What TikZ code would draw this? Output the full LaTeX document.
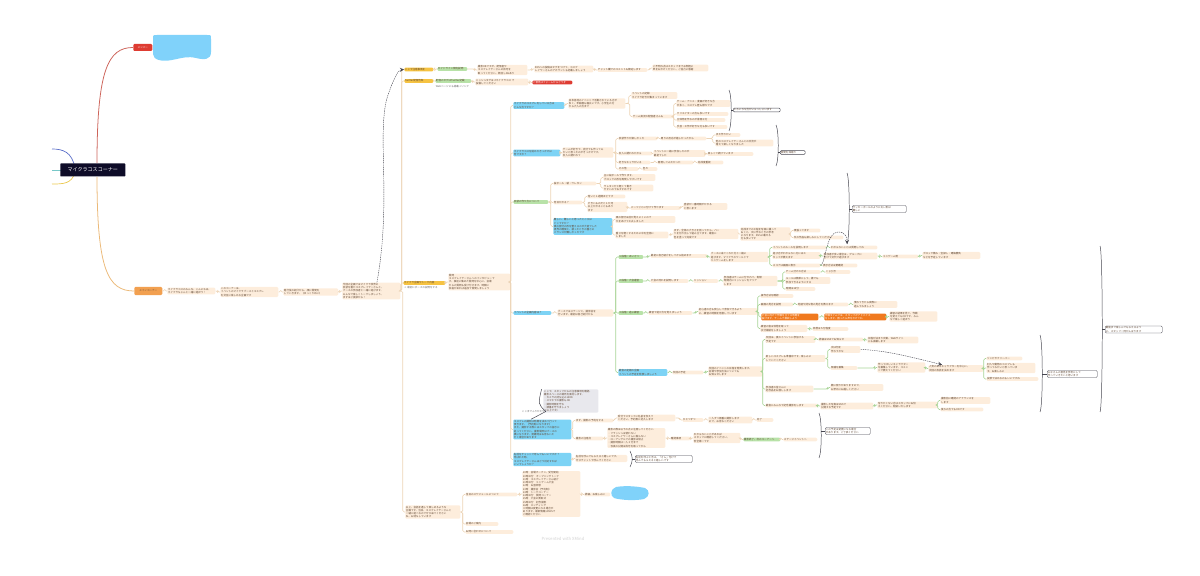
\documentclass[tikz,border=0pt]{standalone}
\usepackage{fontspec}
\setmainfont{Noto Sans CJK JP}
\XeTeXlinebreaklocale "ja"
\XeTeXlinebreakskip=0pt plus 0.5pt
\tikzset{
  topic/.style={
    anchor=west,
    inner sep=0.5pt,
    rounded corners=0.8pt,
    align=left,
    text=topictext,
    font=\fontsize{1.8}{2.3}\selectfont
  },
  topic-txt/.style={topic, fill=creamfill},
  topic-yellow/.style={topic, fill=topicyellow},
  topic-green/.style={topic, fill=topicgreen},
  topic-blue/.style={topic, fill=topicblue},
  topic-orange/.style={topic, fill=topicorange, text=white},
  topic-red/.style={topic, fill=topicred, text=white},
  topic-plain/.style={topic, text=gray!80!black},
  topic-note/.style={topic, fill=notegrey},
  topic-summary/.style={topic, fill=white, draw=relgray, line width=0.3pt},
  root/.style={anchor=west, fill=rootnavy, text=white, inner sep=0pt,
    minimum width=16.25mm, minimum height=3.25mm, rounded corners=0.4pt,
    font=\fontsize{3.6}{4}\selectfont},
  link/.style={draw=linktan, line width=0.4pt, rounded corners=1pt},
  link-green/.style={link, draw=linkgreen},
  rel/.style={draw=relgray, line width=0.3pt, dash pattern=on 1pt off 0.6pt, ->, >=stealth},
  brace-line/.style={draw=relgray, line width=0.35pt}
}
\definecolor{topictext}{RGB}{95,70,50}
\definecolor{creamfill}{RGB}{253,237,220}
\definecolor{topicyellow}{RGB}{246,195,66}
\definecolor{topicgreen}{RGB}{184,226,168}
\definecolor{topicblue}{RGB}{125,211,245}
\definecolor{topicorange}{RGB}{240,121,30}
\definecolor{topicred}{RGB}{222,60,50}
\definecolor{mainorange}{RGB}{242,160,80}
\definecolor{rootnavy}{RGB}{14,12,40}
\definecolor{notegrey}{RGB}{232,232,237}
\definecolor{linktan}{RGB}{236,212,182}
\definecolor{linkgreen}{RGB}{168,212,150}
\definecolor{relgray}{RGB}{70,70,80}
\definecolor{blobblue}{RGB}{128,210,250}
\newcommand{\branchlink}[3][link]{
  \draw[#1] (#2.east) -| ([xshift=-1.6pt]#3.west) -- (#3.west);
}
\newcommand{\summarybrace}[4]{
  \draw[brace-line] (#1,#2) .. controls ({#1+3},{#2+6}) and ({#1+3},{#3-6}) .. (#1,#3);
  \draw[brace-line] ({#1+2.3},0 |- #4.west) -- (#4.west);
}

\begin{document}
\begin{tikzpicture}[x=0.025cm, y=-0.025cm]
  \useasboundingbox (0,0) rectangle (1200,576);
  % Root and its two branches
  \draw[line width=0.5pt, draw={rgb,255:red,90;green,110;blue,200}] (75,168) .. controls (72,152) and (63,149) .. (52,149);
  \draw[line width=0.5pt, draw={rgb,255:red,120;green,200;blue,200}] (64,170) -- (52,170);
  \draw[line width=0.5pt, draw={rgb,255:red,235;green,200;blue,80}] (75,172) .. controls (72,184) and (63,184) .. (52,184);
  \node[root] (root) at (60,170) {マイクラコスコーナー};
  \node[topic-red, minimum width=4.75mm, minimum height=1.75mm, align=center] (member) at (133,47.5) {メンバー};
  \node[topic, fill=mainorange, minimum width=7mm, minimum height=2mm, align=center] (main) at (134,291) {メインコーナー};
  \draw[line width=0.55pt, draw={rgb,255:red,205;green,100;blue,90}] ([xshift=3pt]root.north) .. controls (97,70) and (108,47.5) .. (member.west);
  \draw[line width=0.55pt, draw={rgb,255:red,235;green,185;blue,120}] ([xshift=3pt]root.south) .. controls (97,270) and (108,291) .. (main.west);
  \fill[blobblue] (157,35) -- (207,35) .. controls (211,35) .. (211,39) -- (211,52)
    .. controls (211,60) and (204,60) .. (196,58) .. controls (188,56) and (182,58) .. (172,60)
    .. controls (162,62) and (153,60) .. (153,54) -- (153,39) .. controls (153,35) .. (157,35) -- cycle;

  % Main corner chain
  \node[topic-txt, text width=11.65mm] (intro) at (167,291) {マイクラコスのみんな、こんにちは。\\マイクラちゃんと一緒に遊ぼう！};
  \node[topic-txt, text width=14.15mm] (concept) at (220,292) {このコーナーは、\\イベントのマイクラブースとコスプレ\\を交互に楽しめる企画です};
  \node[topic-txt, text width=13.4mm] (host) at (283,292) {進行役の紹介から、順に質問を\\していきます。（ゆっくりめに）};
  \node[topic-txt, text width=14.15mm] (plan) at (342,291) {今回の企画ではマイクラ世界の\\衣装を着たコスプレイヤーさんと、\\ブースの参加者と一緒に遊びます。\\みんなで楽しくトークしましょう。\\まずはご挨拶から！};

  % Yellow topics
  \node[topic-yellow, text width=6.9mm] (caution) at (404,69.5) {ここで注意事項を};
  \node[topic-yellow, text width=6.9mm] (notice) at (404,81) {Twitter配信告知};
  \node[topic-yellow, text width=10.15mm] (talk) at (403,283) {マイクラ企画やトーク内容};
  \node[topic-plain, text width=10.15mm] (talknote) at (403,287.8) {→ 最初にポーズの説明をする};
  \node[topic-txt, text width=13.4mm] (closing) at (405,512) {以上、会話を通して楽しめるような\\企画です。当日、コスプレイヤーさんと\\一緒に遊べるのでぜひ来てください\\ね。お待ちしています};

  % Caution and notice rows
  \node[topic-green, text width=7.15mm] (rules) at (437,69) {ガイドライン規約説明};
  \node[topic-txt, text width=12.15mm] (photo) at (477,70) {撮影OKですが、配信者や\\コスプレイヤーさんの許可を\\取ってください。顔出しNGあり};
  \node[topic-txt, text width=14.4mm] (sns) at (534,69) {SNSへの投稿はタグをつけて、コスプ\\レイヤーさんのアカウントも記載しましょう};
  \node[topic-txt, text width=12.15mm] (chat) at (597,70) {チャット欄でのコメントも歓迎します};
  \node[topic-txt, text width=13.65mm] (staff) at (652,68) {ご不明な点はスタッフまでお気軽に\\声をおかけください。ご協力に感謝};
  \node[topic-green, text width=8.65mm] (tag) at (435,81) {配信のタグはTwitter記載};
  \node[topic-plain, text width=8.65mm] (tagnote) at (435,86.5) {Webページにも掲載→リンク};
  \node[topic-txt, text width=12.9mm] (hashtag) at (475,82) {ハッシュタグは \#マイクラコス で\\投稿してください};
  \node[topic-red, text width=9.65mm] (form) at (532,82.5) {ご意見はフォームからどうぞ};

  % Talk topics
  \node[topic-txt, text width=15.15mm] (question) at (448,282) {質問\\コスプレイヤーさんへのインタビューで\\す。事前に集めた質問を中心に、会場\\からの質問も受け付けます。時間に\\余裕があれば追加で質問しましょう};
  \node[topic-blue, text width=12.4mm] (q1) at (513,105.5) {マイクラのコスプレをしている方は\\どんな方ですか？};
  \node[topic-blue, text width=11.4mm] (q2) at (513,153) {マイクラコスを始めたきっかけは\\何ですか？};
  \node[topic-green, text width=8.4mm] (q3) at (513,202) {衣装の作り方について};
  \node[topic-blue, text width=9.15mm] (q4) at (513,313) {イベントの企画内容は？};
  \node[topic-blue, text width=14.15mm] (q5) at (513,429.5) {コスプレの撮影は時間を決めて行って\\頂きます。（予約制になります）\\また、撮影する際にはスタッフの指示に\\従ってください。撮影場所はブースの\\横になります。混雑時はお待ちいた\\だく場合があります};
  \node[topic-blue, text width=14.15mm] (q6) at (513,459.5) {名前をチャットで呼んでもいいですか？\\呼ばれた時、\\コスプレイヤーさんはどう対応すれば\\いいでしょうか？};

  % Q1
  \node[topic-txt, text width=13.9mm] (a1) at (568,103.5) {日本各地のイベントで活動されている方が\\多く、年齢層も幅広いです。小学生の方\\から大人の方まで};
  \node[topic-txt, text width=11.15mm] (a1a) at (631,95.5) {イベントの記録\\マイクラ好きが集まっています};
  \node[topic-txt, text width=9.9mm] (a1b) at (632,116.5) {ゲーム実況の配信者さんも};
  \node[topic-txt, text width=13.15mm] (a1b1) at (676,103.5) {ゲーム・アニメ・漫画が好きな方\\が多く、コスプレ歴も様々です};
  \node[topic-txt, text width=12.65mm] (a1b2) at (676,114) {クリエイターの方も多いです};
  \node[topic-txt, text width=11.9mm] (a1b3) at (676,120) {立体物を作るのが得意な方};
  \node[topic-txt, text width=12.4mm] (a1b4) at (676,127) {手芸・工作が好きな方も多いです};
  \node[topic-summary, text width=11.4mm] (sum1) at (733,110) {いろいろな方がいらっしゃいます};

  % Q2
  \node[topic-txt, text width=12.4mm] (a2) at (562,152.5) {ゲームが好きで、自分でも作ってみ\\たいと思ったのがきっかけです。\\友人に誘われて};
  \node[topic-txt, text width=9.4mm] (a2a) at (618,138.5) {衣装作りが楽しかった};
  \node[topic-txt, text width=11.15mm] (a2a1) at (660,138.5) {周りの反応が嬉しかったから};
  \node[topic-txt, text width=5.9mm] (a2a1a) at (715,135) {また作りたい};
  \node[topic-txt, text width=14.15mm] (a2a1b) at (715,143) {他のコスプレイヤーさんとの交流が\\増えて楽しくなりました};
  \node[topic-txt, text width=8.15mm] (a2b) at (618,153.5) {友人に誘われたから};
  \node[topic-txt, text width=12.65mm] (a2b1) at (653,153.5) {イベントに一緒に参加したのが\\最初でした};
  \node[topic-txt, text width=11.15mm] (a2b2) at (707,154) {楽しくて続けています};
  \node[topic-txt, text width=7.65mm] (a2c) at (618,162.5) {好きなキャラがいる};
  \node[topic-txt, text width=8.65mm] (a2c1) at (657,162.5) {再現してみたかった};
  \node[topic-txt, text width=6.15mm] (a2c2) at (697,162.5) {完成度重視};
  \node[topic-txt, text width=4.65mm] (a2d) at (618,169) {その他};
  \node[topic-txt, text width=3.4mm] (a2d1) at (642,169) {色々};
  \node[topic-summary, text width=5.9mm] (sum2) at (780,152.5) {質問を深堀り};

  % Q3
  \node[topic-txt, text width=10.4mm] (b3a) at (553,183.5) {段ボール・紙・ウレタン};
  \node[topic-txt, text width=12.65mm] (b3a1) at (603,177.5) {主に段ボールで作ります。\\ブロックの形を再現しやすいです};
  \node[topic-txt, text width=12.15mm] (b3a2) at (603,188) {ウレタンだと軽くて動き\\やすいのでおすすめです};
  \node[topic-txt, text width=6.9mm] (b3b) at (553,202.5) {何日かかる？};
  \node[topic-txt, text width=9.15mm] (b3b1) at (587,196.5) {短いと１週間ほどです};
  \node[topic-txt, text width=9.65mm] (b3b2) at (587,207) {大きいものだと１か月\\以上かかることもあり\\ます};
  \node[topic-txt, text width=12.15mm] (b3b2a) at (630,208) {パーツごとに分けて作ります};
  \node[topic-txt, text width=10.65mm] (b3b2b) at (683,206.5) {塗装が一番時間がかかる\\と思います};
  \node[topic-blue, text width=14.4mm] (b3c) at (553,226.5) {難しい、難しいと思ったところは\\どこですか？\\頭の部分の形を整えるのが大変でした\\視界の確保と、被ったときの重さの\\バランスが難しかったです};
  \node[topic-txt, text width=14.65mm] (b3c1) at (615,219.5) {頭の部分は前が見えにくいので\\穴をあけて工夫しました};
  \node[topic-txt, text width=12.9mm] (b3c2) at (615,235) {重さを軽くするために中を空洞に\\しました};
  \node[topic-txt, text width=15.9mm] (b3c2a) at (673,234) {まず、全体の大きさを測ってから、パー\\ツを切り出して組み立てます。最後に\\色を塗って完成です};
  \node[topic-txt, text width=12.15mm] (b3c2b) at (740,234) {完成までの工程を写真に撮って\\おくと、次に作るときの参考\\になります。SNSに載せる\\方も多いです};
  \node[topic-txt, text width=6.4mm] (b3c2b1) at (793,230.5) {頑張ってます};
  \node[topic-txt, text width=12.15mm] (b3c2b2) at (793,237.5) {次の作品も楽しみにしてください};
  \node[topic-summary, text width=13.15mm] (sum3) at (852,209) {サッカーボールのように丸い形は\\難しい};

  % Q4 and the four stages
  \node[topic-txt, text width=13.65mm] (a4) at (557,313) {ブースではステージと、撮影会を\\行います。最初は自己紹介から};
  \node[topic-green, text width=5.9mm] (s1) at (618,257) {１段階：あいさつ};
  \node[topic-green, text width=5.9mm] (s2) at (618,281) {２段階：大会運営};
  \node[topic-green, text width=5.9mm] (s3) at (618,313) {３段階：遊ぶ練習};
  \node[topic-blue, text width=11.9mm] (s4) at (618,372.5) {最後の定期の企画\\イベントの予定を発表しましょう};

  \node[topic-txt, text width=13.9mm] (s1a) at (650,256) {最初に自己紹介をしてから始めます};
  \node[topic-txt, text width=14.15mm] (s1b) at (710,257) {ブースに来てくれた方と一緒に\\遊びます。マイクラのワールドで\\ミニゲームをします};
  \node[topic-txt, text width=13.15mm] (s1c) at (772,247.5) {イベントのルールを説明します};
  \node[topic-txt, text width=11.65mm] (s1d) at (772,255.5) {遊び方がわからない方にはス\\タッフが教えます};
  \node[topic-txt, text width=11.65mm] (s1e) at (772,265.5) {スコアは画面に表示};
  \node[topic-txt, text width=11.4mm] (s1c1) at (830,247.5) {わからないことは質問してね};
  \node[topic-txt, text width=13.15mm] (s1d1) at (823,256) {参加者が多い場合は、グループに\\分けて交代で遊びます};
  \node[topic-txt, text width=8.65mm] (s1d1a) at (882,256.5) {ミニゲーム例};
  \node[topic-txt, text width=14.15mm] (s1d1b) at (922,255.5) {ブロック積み・宝探し・建築勝負\\などを予定しています};
  \node[topic-txt, text width=8.4mm] (s1e1) at (822,265.5) {表示方法は要確認};

  \node[topic-txt, text width=9.15mm] (s2a) at (650,281) {大会の流れを説明します};
  \node[topic-txt, text width=5.9mm] (s2b) at (693,281) {ミッション};
  \node[topic-txt, text width=13.15mm] (s2c) at (723,281) {参加者はチームに分かれて、制限\\時間内にミッションをクリア\\します};
  \node[topic-txt, text width=8.4mm] (s2c1) at (785,272) {チーム分けの方法};
  \node[topic-txt, text width=10.9mm] (s2c2) at (785,280.5) {ルールは簡単にして、誰でも\\参加できるようにする};
  \node[topic-txt, text width=7.15mm] (s2c3) at (785,289) {時間は15分};
  \node[topic-txt, text width=5.9mm] (s2c1a) at (825,272) {くじ引き};

  \node[topic-txt, text width=10.65mm] (s3a) at (648,313) {練習で遊び方を覚えましょう};
  \node[topic-txt, text width=14.4mm] (s3b) at (698,311.5) {初心者の方も安心して参加できるよう\\に、練習の時間を用意しています};
  \node[topic-txt, text width=7.9mm] (s3c) at (760,296) {操作方法を確認};
  \node[topic-txt, text width=7.9mm] (s3d) at (760,304.5) {画面の見方を説明};
  \node[topic-txt, text width=12.4mm] (s3d1) at (797,304.5) {地図や持ち物の見方を教えます};
  \node[topic-txt, text width=10.65mm] (s3d2) at (853,304.5) {慣れてきたら実際に\\遊んでみましょう};
  \node[topic-orange, text width=13.9mm] (s3e) at (761,317) {大会に向けて作戦を立てる時間を\\設けます。チームで相談しよう};
  \node[topic-orange, text width=15.15mm] (s3e1) at (824,317) {作戦タイムでは、スタッフがアドバイス\\をします。困ったら声をかけてね};
  \node[topic-txt, text width=11.65mm] (s3e2) at (889,316.5) {練習の結果を見て、作戦\\を変えてもOKです。みん\\なで楽しく遊ぼう};
  \node[topic-txt, text width=11.4mm] (s3f) at (760,328.5) {練習の後は休憩を取って\\水分補給をしましょう};
  \node[topic-txt, text width=8.65mm] (s3f1) at (812,329) {休憩は５分程度};

  \node[topic-txt, text width=7.4mm] (s4a) at (672,372.5) {次回の予定};
  \node[topic-txt, text width=13.15mm] (s4b) at (708,371.5) {次回のイベントの日程を発表します。\\会場や参加方法についても\\お知らせします};
  \node[topic-txt, text width=12.15mm] (k1) at (765,339.5) {次回は、夏のイベントに参加する\\予定です};
  \node[topic-txt, text width=10.9mm] (k1a) at (818,339.5) {詳細はSNSでお知らせ};
  \node[topic-txt, text width=12.4mm] (k1b) at (867,340) {日程が決まり次第、Webサイト\\にも掲載します};
  \node[topic-txt, text width=14.65mm] (k2) at (765,358.5) {新しいコスプレも準備中です。楽しみに\\していてください};
  \node[topic-txt, text width=7.15mm] (k2a) at (830,349.5) {次は何を\\作ろうかな};
  \node[topic-txt, text width=6.4mm] (k2b) at (830,368) {候補を募集};
  \node[topic-txt, text width=11.65mm] (k2b1) at (877,367.5) {作ってほしいキャラクター\\を募集しています。コメン\\トで教えてください};
  \node[topic-txt, text width=13.4mm] (k2b2) at (928,368.5) {人気のあるキャラクターを中心に、\\次回の衣装を決めます};
  \node[topic-txt, text width=8.65mm] (k2c1) at (986,358.5) {ゾンビやクリーパー};
  \node[topic-txt, text width=11.9mm] (k2c2) at (986,368) {村人や動物のコスプレも\\作ってみたいと思っていま\\す。お楽しみに};
  \node[topic-txt, text width=12.65mm] (k2c3) at (986,379) {投票で決めるのもいいですね};
  \node[topic-summary, text width=12.15mm] (sum5) at (1047,374) {みなさんの意見を参考にして\\作っていきたいと思います};
  \node[topic-txt, text width=11.65mm] (k3) at (765,389) {参加者の皆さんに\\記念品をお渡しします};
  \node[topic-txt, text width=12.9mm] (k3a) at (830,387.5) {数に限りがありますので、\\お早めにお越しください};
  \node[topic-txt, text width=12.65mm] (k4) at (765,405.5) {最後にみんなで記念撮影をします};
  \node[topic-txt, text width=12.9mm] (k4a) at (820,406) {撮影した写真はSNSで\\公開する予定です};
  \node[topic-txt, text width=14.65mm] (k4b) at (877,405) {写りたくない方はスタッフにお伝\\えください。配慮いたします};
  \node[topic-txt, text width=12.15mm] (k4b1) at (940,400.5) {撮影前に確認のアナウンスを\\します};
  \node[topic-txt, text width=10.4mm] (k4b2) at (940,409.5) {後ろの方でもOKです};
  \node[topic-summary, text width=13.9mm] (sum6) at (1105,329.5) {最後まで楽しんでもらえるよう\\に、スタッフ一同がんばります};

  % Q5 and Q6
  \node[topic-note, text width=13.4mm] (memo) at (543,401) {ここで、スタッフからの注意事項を確認。\\撮影スペースの場所を案内します。\\・カメラの持ち込みはOK\\・スマホでの撮影もOK\\・撮影時間を守る\\・順番を守りましょう\\（以上です）};
  \node[topic-plain] (memotag) at (521,411.5) {ここまでふりかえり};
  \node[topic-txt, text width=9.15mm] (p1) at (575,420.5) {まず、撮影の予約をする};
  \node[topic-txt, text width=14.15mm] (p1a) at (617,418) {受付でスタッフに名前を伝えて\\ください。予約表に記入します};
  \node[topic-txt, text width=4.9mm] (p1b) at (682,420) {ひとつずつ};
  \node[topic-txt, text width=10.65mm] (p1c) at (708,420) {一人ずつ順番に撮影します\\ので、お待ちください};
  \node[topic-txt, text width=3.9mm] (p1d) at (756,420) {完了};
  \node[topic-txt, text width=6.65mm] (p2) at (575,438.5) {撮影の注意点};
  \node[topic-txt, text width=14.15mm] (p2a) at (607,438) {撮影の際は以下の点に注意してください\\・フラッシュは使わない\\・コスプレイヤーさんに触らない\\・ローアングルでの撮影は禁止\\・撮影時間は一人３分まで\\・写真の公開は許可を取ってから};
  \node[topic-txt, text width=4.65mm] (p2b) at (670,438.5) {確認事項};
  \node[topic-txt, text width=11.4mm] (p2c) at (693,438) {わからないことがあれば\\スタッフに確認してください。\\安全第一です};
  \node[topic-green, text width=8.9mm] (p2d) at (743,439.5) {撮影終了、次のコーナーへ};
  \node[topic-txt, text width=8.15mm] (p2e) at (783,439.5) {ステージイベントへ};
  \node[topic-summary, text width=10.9mm] (sum7) at (825,431) {この予定は変更になる場合\\があります。ご了承ください};
  \node[topic-txt, text width=12.65mm] (p3) at (575,458.5) {名前を呼んでもらえると嬉しいです。\\ぜひチャットで呼んでください};
  \node[topic-summary, text width=13.9mm] (sum8) at (635,459) {名前を呼ぶときは、「さん」付けで\\呼んでもらえると嬉しいです};

  % Closing
  \node[topic-txt, text width=12.65mm] (d1) at (465,494.5) {当日のスケジュールについて};
  \node[topic-txt, text width=7.9mm] (d2) at (465,524) {会場のご案内};
  \node[topic-txt, text width=11.65mm] (d3) at (465,532) {お問い合わせについて};
  \node[topic-txt, text width=14.15mm] (d1a) at (522,494) {10時　会場オープン、受付開始\\10時30分　オープニングトーク\\11時　コスプレイヤーさん紹介\\11時30分　ミニゲーム大会\\12時　お昼休憩\\13時　撮影会（予約制）\\14時　トークコーナー\\14時30分　質問コーナー\\15時　大会の表彰式\\15時30分　記念撮影\\16時　エンディング\\※時間は変更になる場合が\\あります。最新情報はSNSで\\ご確認ください};
  \node[topic-txt, text width=6.15mm] (d1b) at (584,494.5) {詳細、お楽しみに};
  \fill[blobblue] (616,487) .. controls (628,485) and (640,487) .. (645,488) .. controls (650,490) and (650,497) .. (644,499)
    .. controls (635,501) and (620,500) .. (614,498) .. controls (610,496) and (610,489) .. (616,487) -- cycle;

  \node[font=\fontsize{3}{3.5}\selectfont, text=gray!35] (mark) at (563,539) {Presented with XMind};

  % Connectors
  \foreach \a/\b in {main/intro, intro/concept, concept/host, host/plan,
      plan/caution, plan/notice, plan/talk, plan/closing,
      caution/rules, rules/photo, photo/sns, sns/chat, chat/staff,
      notice/tag, tag/hashtag, hashtag/form, talk/question,
      question/q1, question/q2, question/q3, question/q4, question/q5, question/q6,
      q1/a1, a1/a1a, a1/a1b, a1b/a1b1, a1b/a1b2, a1b/a1b3, a1b/a1b4,
      q2/a2, a2/a2a, a2/a2b, a2/a2c, a2/a2d, a2a/a2a1, a2a1/a2a1a, a2a1/a2a1b,
      a2b/a2b1, a2b1/a2b2, a2c/a2c1, a2c1/a2c2, a2d/a2d1,
      q3/b3a, q3/b3b, q3/b3c, b3a/b3a1, b3a/b3a2, b3b/b3b1, b3b/b3b2, b3b2/b3b2a, b3b2a/b3b2b,
      b3c/b3c1, b3c/b3c2, b3c2/b3c2a, b3c2a/b3c2b, b3c2b/b3c2b1, b3c2b/b3c2b2,
      q4/a4,
      q5/p1, p1/p1a, p1a/p1b, p1b/p1c, p1c/p1d, q5/p2, p2/p2a, p2a/p2b, p2b/p2c, p2c/p2d, p2d/p2e,
      q6/p3, closing/d1, closing/d2, closing/d3, d1/d1a, d1a/d1b}
    {\branchlink{\a}{\b}}
  \foreach \a/\b in {a4/s1, a4/s2, a4/s3, a4/s4,
      s1/s1a, s1a/s1b, s1b/s1c, s1b/s1d, s1b/s1e, s1c/s1c1, s1d/s1d1, s1d1/s1d1a, s1d1a/s1d1b, s1e/s1e1,
      s2/s2a, s2a/s2b, s2b/s2c, s2c/s2c1, s2c/s2c2, s2c/s2c3, s2c1/s2c1a,
      s3/s3a, s3a/s3b, s3b/s3c, s3b/s3d, s3b/s3e, s3b/s3f, s3d/s3d1, s3d1/s3d2, s3e/s3e1, s3e1/s3e2, s3f/s3f1,
      s4/s4a, s4a/s4b, s4b/k1, s4b/k2, s4b/k3, s4b/k4, k1/k1a, k1a/k1b, k2/k2a, k2/k2b,
      k2b/k2b1, k2b1/k2b2, k2b2/k2c1, k2b2/k2c2, k2b2/k2c3, k3/k3a, k4/k4a, k4a/k4b, k4b/k4b1, k4b/k4b2}
    {\branchlink[link-green]{\a}{\b}}

  % Summaries
  \summarybrace{729}{90}{131}{sum1}
  \summarybrace{776}{125}{166}{sum2}
  \summarybrace{847}{173}{244}{sum3}
  \summarybrace{1040}{335}{412}{sum5}
  \summarybrace{1100}{246}{412}{sum6}
  \summarybrace{819}{413}{458}{sum7}
  \summarybrace{630}{451}{467}{sum8}

  % Relationship lines
  \draw[rel] ([xshift=4pt]plan.north) .. controls (392,200) and (376,130) .. (388,95) .. controls (394,78) and (398,70) .. (caution.west);
  \draw[rel] (s1e.east) .. controls (826,262) and (826,232) .. (838,232) .. controls (846,232) and (847,238) .. (847,244);
  \draw[rel] (k2a.east) .. controls (885,350) and (915,358) .. ([xshift=10pt]k2b2.north west);
  \draw[brace-line] ([xshift=-1pt]memo.north west) .. controls (538,404) .. (memotag.east) .. controls (538,416) .. ([xshift=-8pt]q5.north);
\end{tikzpicture}
\end{document}
